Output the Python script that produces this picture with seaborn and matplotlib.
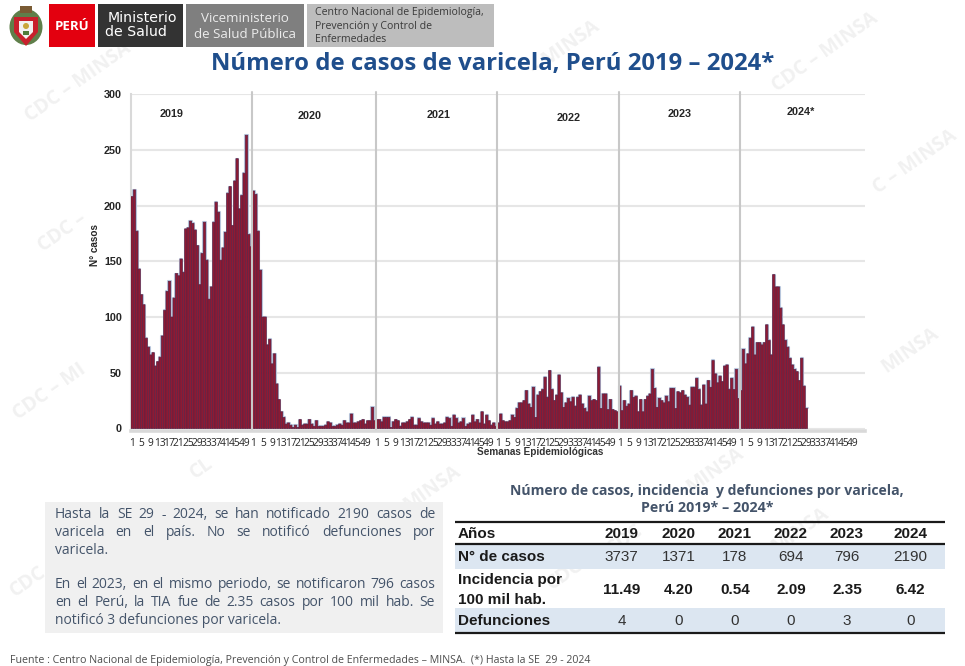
import matplotlib
matplotlib.use("Agg")
import matplotlib.pyplot as plt
from matplotlib.patches import Rectangle, Polygon, Ellipse
from matplotlib.ticker import FixedLocator
import numpy as np
import pandas as pd
import seaborn as sns

# ---------- data ----------
casos_2019 = [208,214,177,143,120,111,81,73,66,68,56,60,64,83,106,123,132,100,117,139,137,152,140,179,180,186,
              184,178,164,129,157,185,151,116,127,185,203,194,151,162,176,211,217,182,222,242,197,209,229,263,174,163]
casos_2020 = [213,210,177,142,100,100,75,80,58,67,40,26,15,10,4,5,3,1,3,1,8,3,4,4,8,4,
              2,7,2,2,2,3,6,5,2,2,3,4,3,7,5,5,13,5,5,6,7,8,4,7,7,19,7]
casos_2021 = [8,8,6,10,10,10,1,6,8,7,2,5,5,6,8,10,3,3,9,6,5,5,5,3,9,4,
              6,4,4,5,10,9,2,12,9,5,6,9,2,4,5,12,6,8,5,15,4,12,7,3,5,2]
casos_2022 = [5,13,7,6,6,7,12,10,18,23,23,25,34,22,19,37,10,30,33,35,46,28,52,35,25,30,
              48,32,19,23,27,24,28,20,28,30,22,18,15,29,25,26,25,55,18,31,31,17,26,17,16,15]
casos_2023 = [38,16,25,20,22,34,28,29,15,26,15,26,29,31,53,36,19,27,25,23,29,24,36,36,18,33,
              32,34,30,28,21,37,37,45,35,21,39,22,43,37,61,49,41,47,42,56,57,35,45,35,53,27]
casos_2024 = [34,71,58,67,81,91,66,77,77,75,77,93,79,66,138,127,127,108,93,79,73,63,57,53,51,43,63,38,18]
anios = ["2019", "2020", "2021", "2022", "2023", "2024*"]
semanas_por_anio = [52, 53, 52, 52, 52, 52]
y_ticks = [0, 50, 100, 150, 200, 250, 300]

tabla_anios = ["2019", "2020", "2021", "2022", "2023", "2024"]
tabla_casos = ["3737", "1371", "178", "694", "796", "2190"]
tabla_incidencia = ["11.49", "4.20", "0.54", "2.09", "2.35", "6.42"]
tabla_defunciones = ["4", "0", "0", "0", "3", "0"]

valores = casos_2019 + casos_2020 + casos_2021 + casos_2022 + casos_2023 + casos_2024
df = pd.DataFrame({"pos": np.arange(len(valores)), "casos": valores})

# ---------- figure ----------
sns.set_theme(style="white")
plt.rcParams["font.family"] = ["Open Sans", "DejaVu Sans"]
fig = plt.figure(figsize=(9.65, 6.66), dpi=100, facecolor="white")
bg = fig.add_axes([0, 0, 1, 1], zorder=0)
bg.set_xlim(0, 965); bg.set_ylim(666, 0); bg.axis("off")

# watermarks
for x, y, t in [(78, 82, "CDC – MINSA"), (565, 48, "– MINSA"), (825, 52, "CDC – MINSA"),
                (915, 162, "C – MINSA"), (62, 232, "CDC –"), (50, 392, "CDC – MI"),
                (910, 350, "MINSA"), (202, 468, "CL"), (432, 488, "MINSA"),
                (715, 470, "MINSA"), (28, 582, "CDC"), (625, 540, "CDC"), (800, 530, "MINSA"),
                (150, 610, "CDC"), (565, 575, "CDC")]:
    bg.text(x, y, t, fontsize=14, fontweight="bold", color="#f1f1f1", rotation=35,
            ha="center", va="center", rotation_mode="anchor", zorder=0.5)

# header
def caja(x0, y0, x1, y1, color):
    bg.add_patch(Rectangle((x0, y0), x1 - x0, y1 - y0, facecolor=color, edgecolor="none", zorder=1))

caja(49, 4, 95, 47, "#e3000f")
caja(98, 4, 183, 47, "#333333")
caja(186, 4, 304, 47, "#7f7f7f")
caja(307, 4, 494, 47, "#bdbdbd")
bg.text(72, 27, "PERÚ", color="white", fontsize=9.5, fontweight="bold", ha="center", va="center",
        family="Open Sans")
bg.text(142, 18.5, "Ministerio", color="white", fontsize=10.2, ha="center", va="center", family="DejaVu Sans")
bg.text(136, 32, "de Salud", color="white", fontsize=10.2, ha="center", va="center", family="DejaVu Sans")
bg.text(245, 18.5, "Viceministerio", color="#ececec", fontsize=9.6, ha="center", va="center", family="Open Sans")
bg.text(245, 35, "de Salud Pública", color="#ececec", fontsize=9.6, ha="center", va="center", family="Open Sans")
for y, t in [(12, "Centro Nacional de Epidemiología,"), (26, "Prevención y Control de"), (40, "Enfermedades")]:
    bg.text(315, y, t, color="#3a3a3a", fontsize=7.6, ha="left", va="center", family="Open Sans")

# coat of arms (simplified)
bg.add_patch(Ellipse((26, 27), 33, 36, facecolor="#5f7f4a", edgecolor="none"))
bg.add_patch(Polygon([(14, 17), (38, 17), (38, 32), (26, 46), (14, 32)], facecolor="#c8202c", edgecolor="none"))
bg.add_patch(Polygon([(19, 21), (33, 21), (33, 32), (26, 39), (19, 32)], facecolor="#f2f2f2", edgecolor="none"))
bg.add_patch(Rectangle((20, 6), 12, 7, facecolor="#7a5b34", edgecolor="none"))
bg.add_patch(Ellipse((26, 26), 6, 6, facecolor="#c9a63a", edgecolor="none"))
bg.add_patch(Rectangle((23, 31), 6, 4, facecolor="#4e7b3a", edgecolor="none"))

# title
bg.text(492.5, 64, "Número de casos de varicela, Perú 2019 – 2024*", color="#1f4e8c", fontsize=17.2,
        fontweight="bold", ha="center", va="center", family="Open Sans")

# ---------- chart ----------
paso = 2.333
ax = fig.add_axes([131 / 965, (666 - 428.5) / 666, 734 / 965, 334.5 / 666], zorder=2)
ax.patch.set_alpha(0)
ax.yaxis.grid(True, color="#e6e6e6", lw=1.5, zorder=0)
ax.set_axisbelow(True)

# light halo that outlines the histogram
contorno_x = np.r_[df["pos"] - 0.5, df["pos"].iloc[-1] + 0.5]
contorno_y = np.r_[df["casos"], df["casos"].iloc[-1]]
sns.lineplot(x=contorno_x, y=contorno_y, drawstyle="steps-post", color="#b8c6dc", lw=1.5, ax=ax, zorder=2,
             errorbar=None, estimator=None)
sns.barplot(data=df, x="pos", y="casos", native_scale=True, width=1.0, color="#8f1a33", saturation=1,
            edgecolor="#5e2244", linewidth=0.5, ax=ax, zorder=3)
for barra in ax.patches:
    barra.set_snap(False)

ax.set_xlim(-0.5, -0.5 + 734 / paso)
ax.set_ylim(0, 300)
ax.set_yticks(y_ticks)

inicios = np.cumsum([0] + semanas_por_anio)
tick_pos, tick_lab = [], []
for ini, n in zip(inicios[:-1], semanas_por_anio):
    for s in range(1, 52, 4):
        tick_pos.append(ini + s - 1)
        tick_lab.append(str(s))
ax.set_xticks(tick_pos)
ax.set_xticklabels(tick_lab)
ax.xaxis.set_minor_locator(FixedLocator(np.arange(-0.5, 313, 3)))
ax.tick_params(axis="x", which="major", length=0, pad=5, labelsize=7.4, labelcolor="#262626")
ax.tick_params(axis="x", which="minor", length=2.5, width=0.8, color="white", direction="out", bottom=True)
ax.tick_params(axis="y", length=0, pad=6.5, labelsize=7.8, labelcolor="#262626")
for lab in ax.get_xticklabels() + ax.get_yticklabels():
    lab.set_family("Liberation Sans")
    lab.set_fontweight("bold")

for s in ["top", "right"]:
    ax.spines[s].set_visible(False)
ax.spines["left"].set_color("#d9d9d9"); ax.spines["left"].set_linewidth(1.5)
ax.spines["bottom"].set_color("#d9d9d9"); ax.spines["bottom"].set_linewidth(2.6)
ax.spines["bottom"].set_position(("outward", 1.5))
ax.set_xlabel(""); ax.set_ylabel("")

# year separators
for ini in inicios[1:-1]:
    ax.axvline(ini - 0.5, ymin=0, ymax=1.006, color="#c8c8c8", lw=1.5, zorder=4, clip_on=False)

for (x, y), t in zip([(172, 114), (310, 116), (439, 115), (569, 118), (680, 114), (801, 112)], anios):
    bg.text(x, y, t, fontsize=7.8, fontweight="bold", ha="center", va="center", color="#262626",
            family="Liberation Sans", zorder=5)
bg.text(95.5, 245, "N° casos", rotation=90, fontsize=7.2, fontweight="bold", ha="center", va="center",
        color="#262626", family="Liberation Sans")
bg.text(540, 452, "Semanas Epidemiológicas", fontsize=7.2, fontweight="bold", ha="center", va="center",
        color="#333333", family="Liberation Sans")

# ---------- text box ----------
caja(45, 502, 443, 633, "#f0f0f0")
renderer = fig.canvas.get_renderer()
color_txt = "#44546a"

def linea(y, texto, justificar=True, x0=55, x1=435):
    kw = dict(fontsize=10.0, color=color_txt, family="Open Sans", va="center", ha="left")
    if not justificar:
        bg.text(x0, y, texto, **kw)
        return
    palabras = texto.split(" ")
    artistas = [bg.text(x0, y, p, **kw) for p in palabras]
    anchos = [a.get_window_extent(renderer).width for a in artistas]
    hueco = (x1 - x0 - sum(anchos)) / (len(palabras) - 1)
    x = x0
    for a, w in zip(artistas, anchos):
        a.set_x(x)
        x += w + hueco

linea(515, "Hasta la SE 29 - 2024, se han notificado 2190 casos de")
linea(533, "varicela en el país. No se notificó defunciones por")
linea(551, "varicela.", False)
linea(584, "En el 2023, en el mismo periodo, se notificaron 796 casos")
linea(602, "en el Perú, la TIA fue de 2.35 casos por 100 mil hab. Se")
linea(620, "notificó 3 defunciones por varicela.", False)

# ---------- table ----------
bg.text(707, 491, "Número de casos, incidencia  y defunciones por varicela,", fontsize=10.1, fontweight="bold",
        color="#44546a", ha="center", va="center", family="Open Sans")
bg.text(707, 508, "Perú 2019* – 2024*", fontsize=10.3, fontweight="bold", color="#44546a", ha="center",
        va="center", family="Open Sans")
caja(455, 544, 945, 569, "#dce6f1")
caja(455, 608, 945, 632, "#dce6f1")
for y, lw in [(521.5, 1.6), (544, 1.6), (633, 1.6)]:
    bg.plot([455, 945], [y, y], color="#1a1a1a", lw=lw, solid_capstyle="butt", zorder=2)

cols = [621.5, 679, 735, 791, 847, 910.5]
tf = dict(family="Liberation Sans", fontsize=11, color="#1a1a1a", va="center", zorder=3)
bg.text(458, 534, "Años", fontweight="bold", ha="left", **tf)
bg.text(458, 557, "N° de casos", fontweight="bold", ha="left", **tf)
bg.text(458, 580, "Incidencia por", fontweight="bold", ha="left", **tf)
bg.text(458, 600, "100 mil hab.", fontweight="bold", ha="left", **tf)
bg.text(458, 621, "Defunciones", fontweight="bold", ha="left", **tf)
for x, a, c, i, d in zip(cols, tabla_anios, tabla_casos, tabla_incidencia, tabla_defunciones):
    bg.text(x, 534, a, fontweight="bold", ha="center", **tf)
    bg.text(x, 557, c, ha="center", **{**tf, "color": "#333333"})
    bg.text(x, 590, i, fontweight="bold", ha="center", **tf)
    bg.text(x, 621, d, ha="center", **{**tf, "color": "#333333"})

# footer
bg.text(10, 661, "Fuente : Centro Nacional de Epidemiología, Prevención y Control de Enfermedades – MINSA.  (*) Hasta la SE  29 - 2024",
        fontsize=7.7, color="#4d4d4d", ha="left", va="center", family="Open Sans")

fig.savefig("out.png", dpi=100)
